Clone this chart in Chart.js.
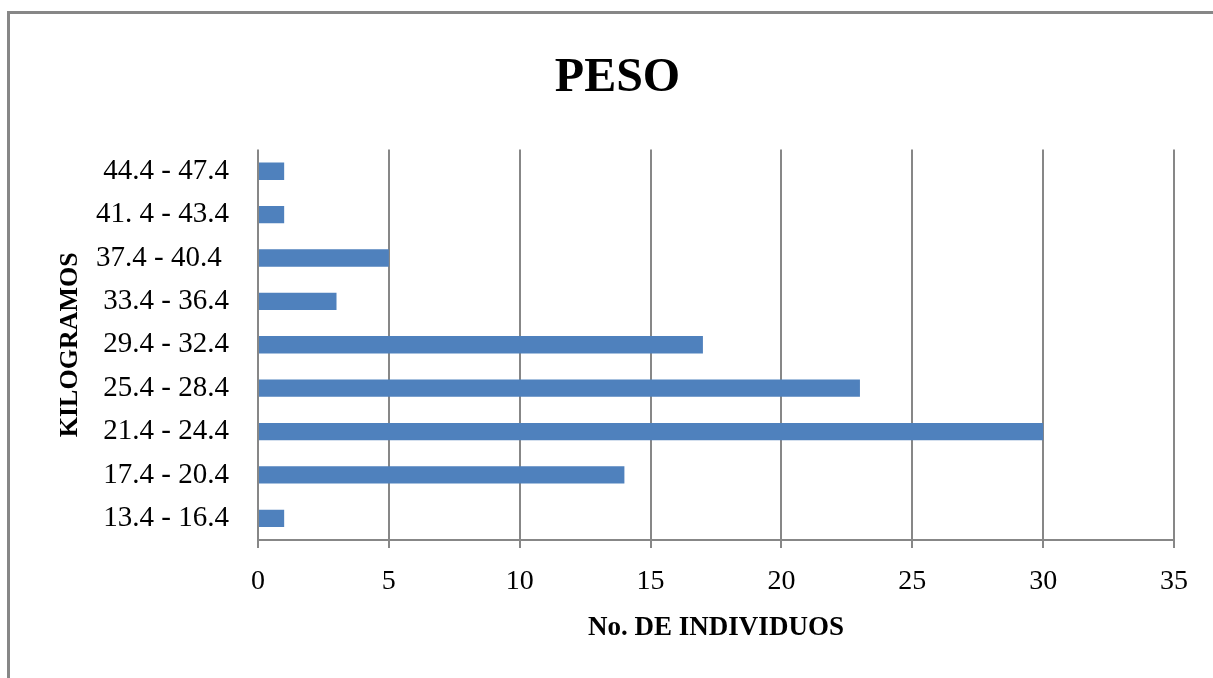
<!DOCTYPE html>
<html>
<head>
<meta charset="utf-8">
<script src="https://cdn.jsdelivr.net/npm/chart.js@4"></script>
<style>
  html, body { margin: 0; padding: 0; background: #fff; overflow: hidden; }
  #wrap { position: relative; width: 1213px; height: 678px; }
  #frame {
    position: absolute; left: 7px; top: 11px; width: 1300px; height: 800px;
    border-top: 3px solid #878787; border-left: 3px solid #878787;
    pointer-events: none;
  }
  canvas { position: absolute; left: 0; top: 0; }
</style>
</head>
<body>
<div id="wrap">
  <canvas id="chart" width="1213" height="678"></canvas>
  <div id="frame"></div>
</div>
<script>
// Datos del gráfico (de arriba hacia abajo)
const categories = ["44.4 - 47.4", "41. 4 - 43.4", "37.4 - 40.4 ", "33.4 - 36.4", "29.4 - 32.4",
  "25.4 - 28.4", "21.4 - 24.4", "17.4 - 20.4", "13.4 - 16.4"];
const individuos = [1, 1, 5, 3, 17, 23, 30, 14, 1];
const xTicks = [0, 5, 10, 15, 20, 25, 30, 35];

const serif = "'Liberation Serif', 'Times New Roman', serif";
const gridColor = "#878787";

new Chart(document.getElementById("chart"), {
  type: "bar",
  data: {
    labels: categories,
    datasets: [{
      label: "No. de individuos",
      data: individuos,
      backgroundColor: "#4F81BD",
      borderWidth: 0,
      barPercentage: 0.4,
      categoryPercentage: 1
    }]
  },
  options: {
    indexAxis: "y",
    responsive: false,
    animation: false,
    layout: { padding: { left: 22, right: 0, top: 0, bottom: 0 } },
    plugins: {
      legend: { display: false },
      tooltip: { enabled: false },
      title: {
        display: true,
        text: "PESO",
        color: "#000",
        font: { family: serif, size: 48, weight: "bold", lineHeight: 1.2 },
        padding: { top: 50, bottom: 42 }
      }
    },
    scales: {
      x: {
        min: xTicks[0],
        max: xTicks[xTicks.length - 1],
        afterBuildTicks: scale => { scale.ticks = xTicks.map(v => ({ value: v })); },
        afterFit: scale => { scale.height = 138; scale.paddingRight = 39; },
        grid: { color: gridColor, lineWidth: 2, tickLength: 8, drawTicks: true },
        border: { display: true, color: gridColor, width: 2 },
        ticks: {
          color: "#000",
          padding: 17,
          font: { family: serif, size: 28, lineHeight: 1.2 }
        },
        title: {
          display: true,
          text: "No. DE INDIVIDUOS",
          color: "#000",
          font: { family: serif, size: 27, weight: "bold", lineHeight: 1.2 },
          padding: { top: 0, bottom: 34 }
        }
      },
      y: {
        afterFit: scale => { scale.width = 236; },
        grid: { display: false, drawTicks: false },
        border: { display: false },
        ticks: {
          color: "#000",
          padding: 29,
          font: { family: serif, size: 29, lineHeight: 1.2 }
        },
        title: {
          display: true,
          text: "KILOGRAMOS",
          color: "#000",
          font: { family: serif, size: 26, weight: "bold", lineHeight: 1.2 },
          padding: { top: 33, bottom: 0 }
        }
      }
    }
  }
});
</script>
</body>
</html>
